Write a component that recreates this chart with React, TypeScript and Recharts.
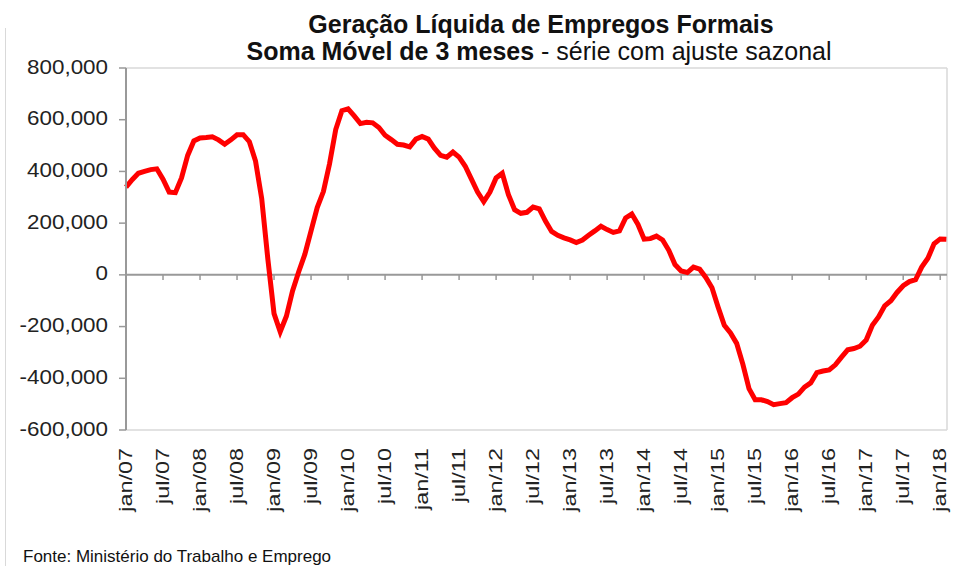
import { LineChart, Line, XAxis, YAxis, ReferenceLine } from "recharts";

// net formal job creation, 3-month moving sum (thousands), jan/07 .. feb/18
const saldoMil = [
  339, 368, 393, 400, 407, 410, 370, 320, 318, 375,
  462, 518, 529, 531, 534, 522, 505, 522, 542, 542,
  515, 440, 295, 60, -150, -220, -160, -62, 12, 80,
  170, 260, 322, 430, 562, 635, 642, 615, 585, 590,
  588, 570, 540, 523, 505, 502, 495, 525, 535, 525,
  490, 462, 455, 475, 455, 420, 370, 320, 283, 320,
  375, 393, 310, 252, 238, 242, 262, 255, 208, 168,
  153, 143, 135, 125, 135, 153, 170, 188, 175, 164,
  170, 220, 235, 195, 138, 140, 150, 135, 95, 40,
  15, 9, 30, 22, -10, -50, -125, -195, -225, -265,
  -345, -440, -483, -483, -490, -502, -498, -494, -475, -461,
  -434, -418, -378, -372, -368, -348, -318, -290, -285, -276,
  -252, -195, -163, -120, -100, -68, -42, -26, -19, 30,
  64, 120, 139, 138
];

const tickLabels = [
  "jan/07", "jul/07", "jan/08", "jul/08", "jan/09", "jul/09", "jan/10", "jul/10",
  "jan/11", "jul/11", "jan/12", "jul/12", "jan/13", "jul/13", "jan/14", "jul/14",
  "jan/15", "jul/15", "jan/16", "jul/16", "jan/17", "jul/17", "jan/18"
];

const yTicks = [-600000, -400000, -200000, 0, 200000, 400000, 600000, 800000];

const data = saldoMil.map((v, i) => ({ m: i, saldo: v * 1000 }));
const xTicks = tickLabels.map((_, i) => i * 6);

const font = "'Liberation Sans', Arial, sans-serif";

const YTick = (props: any) => {
  const { x, y, payload } = props;
  return (
    <text
      transform={`translate(${x},${y}) scale(1.12,1)`}
      textAnchor="end"
      dy="0.28em"
      fontSize={20}
      fontFamily={font}
      fill="#222">
      {payload.value.toLocaleString("en-US")}
    </text>
  );
};

const XTick = (props: any) => {
  const { x, y, payload } = props;
  const label = tickLabels[Math.round(payload.value / 6)];
  return (
    <text
      transform={`translate(${x + 6},${y + 10}) rotate(-90) scale(1.3,1)`}
      textAnchor="end"
      fontSize={18}
      fontFamily={font}
      fill="#222">
      {label}
    </text>
  );
};

export default function App() {
  return (
    <div style={{ position: "absolute", left: 0, top: 0, width: 955, height: 566, background: "#fff" }}>
      <div style={{ position: "absolute", left: 5, top: 28, width: 1, height: 538, background: "#d9d9d9" }} />
      <svg width={955} height={566} style={{ position: "absolute", left: 0, top: 0 }}>
        <text x={541} y={33} textAnchor="middle" fontSize={25} fontWeight="bold" fontFamily={font} fill="#111">
          Geração Líquida de Empregos Formais
        </text>
        <text x={539} y={60} textAnchor="middle" fontSize={25} fontFamily={font} fill="#111">
          <tspan fontWeight="bold">Soma Móvel de 3 meses</tspan>
          <tspan> - série com ajuste sazonal</tspan>
        </text>
        <text x={23} y={562} fontSize={17} fontFamily={font} fill="#111">
          Fonte: Ministério do Trabalho e Emprego
        </text>
      </svg>
      <div style={{ position: "absolute", left: 0, top: 0 }}>
        <LineChart
          width={955}
          height={566}
          data={data}
          margin={{ top: 68, right: 8, left: 0, bottom: 0 }}>
          <ReferenceLine y={800000} stroke="#d9d9d9" strokeWidth={1.5} />
          <ReferenceLine y={-600000} stroke="#d9d9d9" strokeWidth={1.5} />
          <ReferenceLine x={133.1} stroke="#d9d9d9" strokeWidth={1.5} />
          <XAxis
            dataKey="m"
            type="number"
            domain={[0, 133.1]}
            ticks={xTicks}
            interval={0}
            height={136}
            axisLine={false}
            tickLine={false}
            tick={<XTick />}
          />
          <YAxis
            type="number"
            domain={[-600000, 800000]}
            ticks={yTicks}
            interval={0}
            width={126}
            tickSize={7}
            tickMargin={11}
            axisLine={{ stroke: "#999", strokeWidth: 2 }}
            tickLine={{ stroke: "#999", strokeWidth: 1.5 }}
            tick={<YTick />}
          />
          <ReferenceLine y={0} stroke="#999" strokeWidth={2} />
          {xTicks.map((t) => (
            <ReferenceLine
              key={t}
              segment={[{ x: t, y: 0 }, { x: t, y: -20000 }]}
              stroke="#999"
              strokeWidth={1.5}
            />
          ))}
          <Line
            type="linear"
            dataKey="saldo"
            stroke="#ff0000"
            strokeWidth={5}
            dot={false}
            isAnimationActive={false}
          />
        </LineChart>
      </div>
    </div>
  );
}
